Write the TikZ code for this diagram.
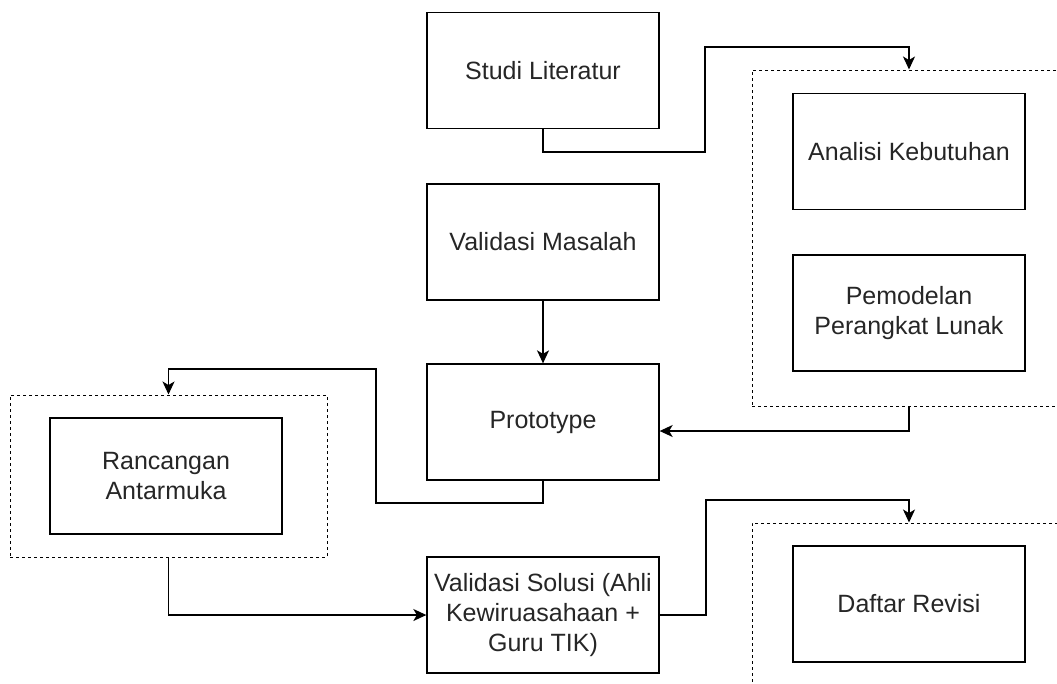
\documentclass[tikz,border=0pt]{standalone}
\usepackage{fontspec}
\setmainfont{Liberation Sans}
\usetikzlibrary{arrows.meta}
\begin{document}
\begin{tikzpicture}[x=1pt,y=-1pt,
 box/.style={draw=black, line width=1.3pt, minimum width=232pt, minimum height=116pt, align=center, font=\fontsize{25}{30}\selectfont, inner sep=0pt, text=black!85},
 grp/.style={draw=black, line width=1pt, dash pattern=on 3pt off 3pt, inner sep=0pt},
 arr/.style={line width=1.4pt, -{Stealth[length=13pt,width=12pt,inset=3.5pt]}},
]
\useasboundingbox (0,0) rectangle (1057,683);
% groups
\node[grp, minimum width=314pt, minimum height=336pt] (g1) at (909,238) {};
\node[grp, minimum width=314pt, minimum height=176pt] (g2) at (909,611) {};
\node[grp, minimum width=317pt, minimum height=162pt] (g3) at (168.5,476) {};
% boxes
\node[box] (sl) at (543,70.5) {Studi Literatur};
\node[box] (vm) at (543,242) {Validasi Masalah};
\node[box] (pr) at (543,422) {Prototype};
\node[box] (vs) at (543,615) {Validasi Solusi (Ahli\\Kewiruasahaan +\\Guru TIK)};
\node[box] (ak) at (909,151.5) {Analisi Kebutuhan};
\node[box] (pm) at (909,313) {Pemodelan\\Perangkat Lunak};
\node[box] (ra) at (166,476) {Rancangan\\Antarmuka};
\node[box] (dr) at (909,604) {Daftar Revisi};
% connectors
\draw[arr] (sl.south) |- (705,152) -- (705,47) -| (g1.north);
\draw[arr] (vm.south) -- (pr.north);
\draw[arr] (g1.south) |- ([yshift=-9pt]pr.east);
\draw[arr] (pr.south) |- (376,503) -- (376,369) -| (g3.north);
\draw[arr] (g3.south) |- (vs.west);
\draw[arr] (vs.east) -| (706,500) -| (g2.north);
\end{tikzpicture}
\end{document}
